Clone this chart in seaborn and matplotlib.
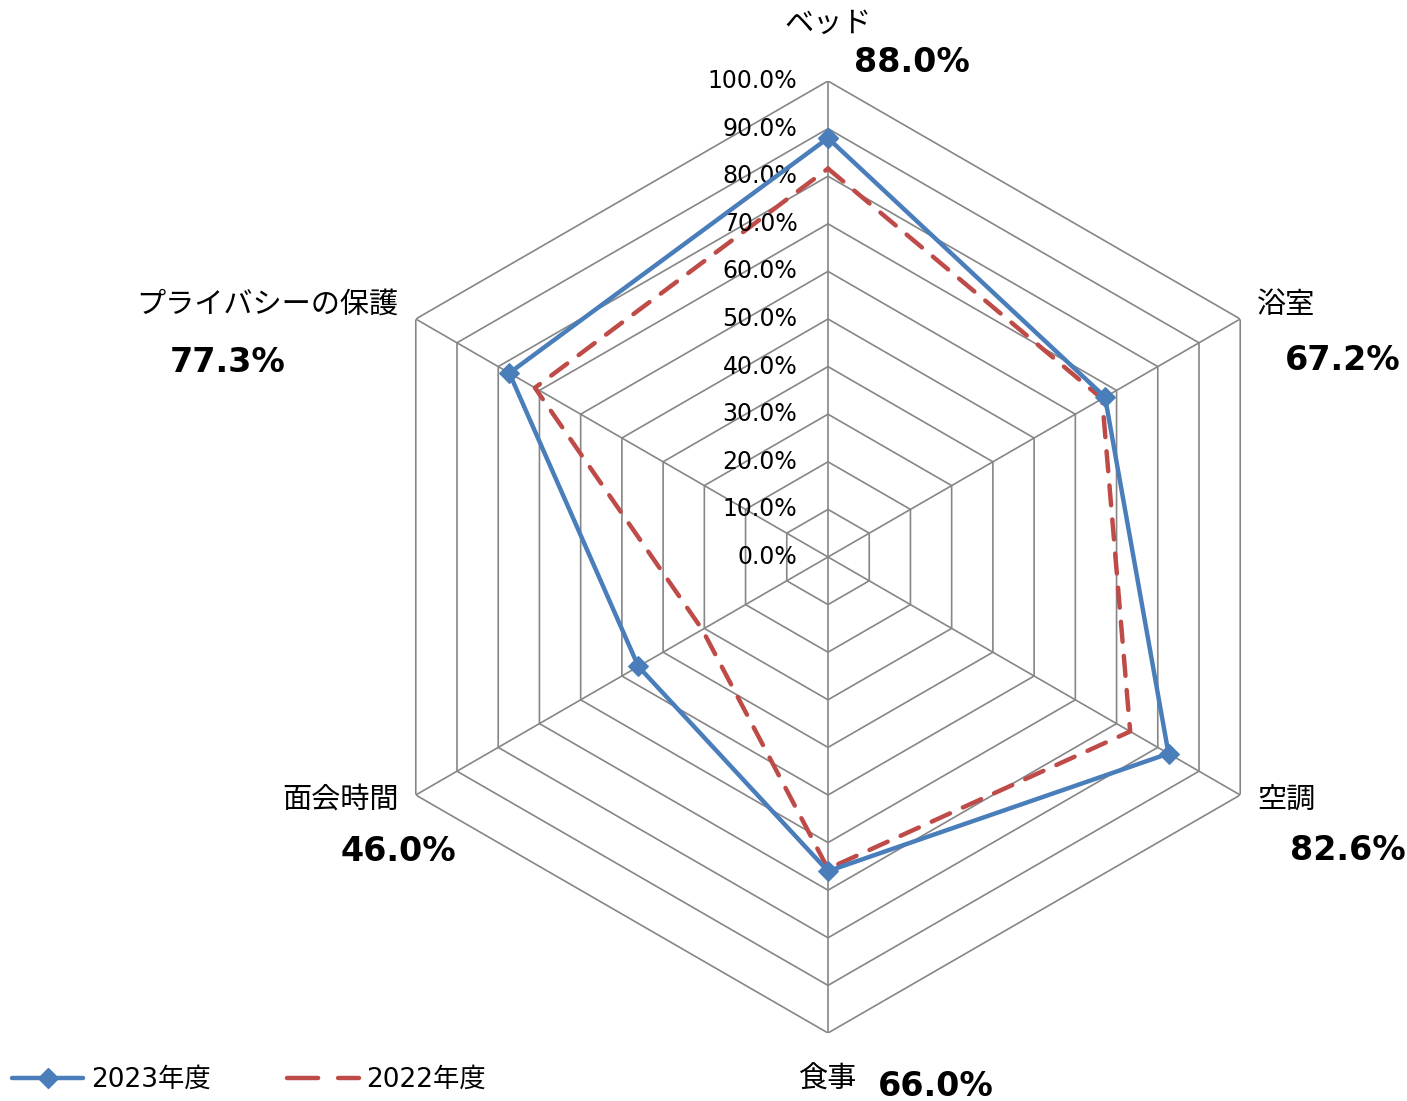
import numpy as np
import pandas as pd
import seaborn as sns
import matplotlib.pyplot as plt
from matplotlib.lines import Line2D

sns.set_theme(style='white')
plt.rcParams['font.family'] = ['DejaVu Sans', 'Noto Sans CJK JP']
plt.rcParams['text.color'] = 'black'

# data
categories = ['ベッド', '浴室', '空調', '食事', '面会時間', 'プライバシーの保護']
vals_2023 = [88.0, 67.2, 82.6, 66.0, 46.0, 77.3]
vals_2022 = [81.6, 66.5, 73.3, 65.5, 30.5, 71.1]
series_names = ['2023年度', '2022年度']
levels = np.arange(0, 101, 10)
tick_labels = ['%.1f%%' % v for v in levels]

blue = '#4a7ebb'
red = '#be4b48'
grid_c = '#868686'

n = len(categories)
theta = np.linspace(0, 2 * np.pi, n, endpoint=False)
theta_closed = np.append(theta, 2 * np.pi)

fig = plt.figure(figsize=(14.07, 11.01), dpi=100)
# radar centre at (828, 557) px, radius 476 px
ax = fig.add_axes([352 / 1407, 68 / 1101, 952 / 1407, 952 / 1101], projection='polar')
ax.set_theta_zero_location('N')
ax.set_theta_direction(-1)
ax.set_ylim(0, 100)
ax.grid(False)
ax.spines['polar'].set_visible(False)
ax.set_xticks([])
ax.set_yticks([])
ax.patch.set_alpha(0)

# hexagonal grid
for lv in levels:
    ax.plot(theta_closed, [lv] * (n + 1), color=grid_c, lw=1.2, zorder=1)
for t in theta:
    ax.plot([t, t], [0, 100], color=grid_c, lw=1.2, zorder=1)

# series
df = pd.DataFrame({
    'theta': np.concatenate([theta_closed, theta_closed]),
    'value': vals_2023 + vals_2023[:1] + vals_2022 + vals_2022[:1],
    'year': [series_names[0]] * (n + 1) + [series_names[1]] * (n + 1),
})
d23 = df[df['year'] == series_names[0]]
d22 = df[df['year'] == series_names[1]]

sns.lineplot(data=d22, x='theta', y='value', ax=ax, sort=False, estimator=None,
             color=red, lw=3.2, zorder=3)
red_line = ax.lines[-1]
red_line.set_dashes([4.5, 3.2])
red_line.set_dash_capstyle('round')

sns.lineplot(data=d23, x='theta', y='value', ax=ax, sort=False, estimator=None,
             color=blue, lw=3.2, marker='D', markersize=10, markeredgecolor=blue, zorder=4)

ax.set_xlabel('')
ax.set_ylabel('')
if ax.get_legend() is not None:
    ax.get_legend().remove()

# radial tick labels along the top axis
for lv, lab in zip(levels, tick_labels):
    ax.annotate(lab, xy=(0, lv), xytext=(-22, 0), textcoords='offset points',
                ha='right', va='center', fontsize=17, color='black',
                annotation_clip=False)

# category labels and 2023 values (offsets in px -> points)
cjk = ['Noto Sans CJK JP', 'DejaVu Sans']
lab_off = [(0, 57, 'center'), (17, 14, 'left'), (17, -5, 'left'),
           (0, -47, 'center'), (-17, -5, 'right'), (-17, 14, 'right')]
pct_off = [(84, 18), (102, -41), (108, -56), (108, -53), (-17, -56), (-188, -43)]
px2pt = 72 / 100
for i, cat in enumerate(categories):
    dx, dy, ha = lab_off[i]
    ax.annotate(cat, xy=(theta[i], 100), xytext=(dx * px2pt, dy * px2pt),
                textcoords='offset points', ha=ha, va='center', fontsize=21,
                family=cjk, color='black', annotation_clip=False)
    px, py = pct_off[i]
    ax.annotate('%.1f%%' % vals_2023[i], xy=(theta[i], 100),
                xytext=(px * px2pt, py * px2pt), textcoords='offset points',
                ha='center', va='center', fontsize=24, fontweight='bold',
                color='black', annotation_clip=False)

# legend
h1 = Line2D([], [], color=blue, lw=3.2, marker='D', markersize=10)
h2 = Line2D([], [], color=red, lw=3.2, dashes=[7, 4.5], dash_capstyle='round')
leg = fig.legend([h1, h2], series_names, loc='center left', bbox_to_anchor=(0.0085, 0.019),
                 ncol=2, frameon=False, fontsize=19, handlelength=2.7, handletextpad=0.3,
                 columnspacing=2.9, borderpad=0, borderaxespad=0, numpoints=1)
for txt in leg.get_texts():
    txt.set_color('black')

fig.savefig('out.png', dpi=100)
